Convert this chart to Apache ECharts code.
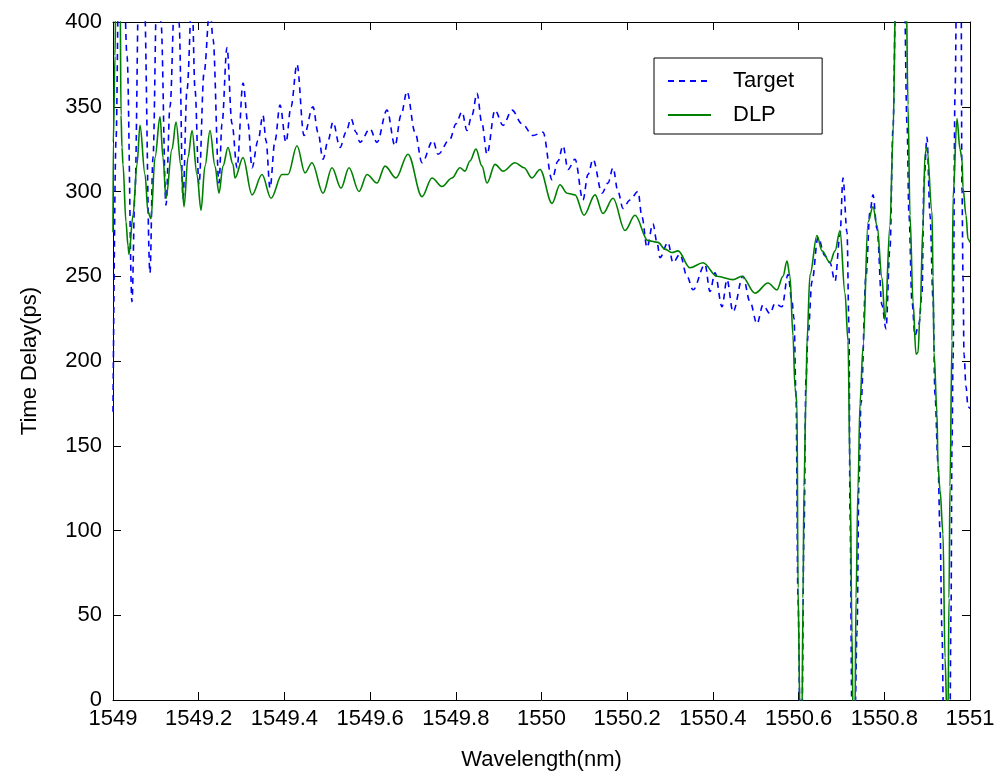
<!DOCTYPE html>
<html>
<head>
<meta charset="utf-8">
<script src="https://cdn.jsdelivr.net/npm/echarts@6/dist/echarts.min.js"></script>
<style>
  html, body { margin: 0; padding: 0; background: #fff; }
  #chart { width: 1005px; height: 780px; }
</style>
</head>
<body>
<div id="chart"></div>
<script>
// Wavelength (nm) and group delay (ps) of the target response
const targetWl = [
  1549.0000, 1549.0070, 1549.0140, 1549.0233, 1549.0327, 1549.0443, 1549.0513, 1549.0607,
  1549.0723, 1549.0863, 1549.0933, 1549.1027, 1549.1120, 1549.1237, 1549.1330, 1549.1447,
  1549.1540, 1549.1634, 1549.1727, 1549.1844, 1549.1914, 1549.2007, 1549.2124, 1549.2264,
  1549.2334, 1549.2474, 1549.2544, 1549.2660, 1549.2777, 1549.2894, 1549.3034, 1549.3151,
  1549.3244, 1549.3384, 1549.3501, 1549.3571, 1549.3664, 1549.3781, 1549.3897, 1549.4037,
  1549.4154, 1549.4294, 1549.4457, 1549.4667, 1549.4784, 1549.4901, 1549.5018, 1549.5134,
  1549.5298, 1549.5438, 1549.5554, 1549.5671, 1549.5764, 1549.5998, 1549.6161, 1549.6394,
  1549.6581, 1549.6721, 1549.6861, 1549.7048, 1549.7211, 1549.7468, 1549.7585, 1549.7865,
  1549.8005, 1549.8145, 1549.8261, 1549.8378, 1549.8495, 1549.8611, 1549.8728, 1549.8915,
  1549.9102, 1549.9312, 1549.9545, 1549.9802, 1550.0035, 1550.0245, 1550.0385, 1550.0502,
  1550.0618, 1550.0782, 1550.0968, 1550.1085, 1550.1202, 1550.1412, 1550.1552, 1550.1669,
  1550.1785, 1550.1902, 1550.2065, 1550.2252, 1550.2345, 1550.2462, 1550.2602, 1550.2695,
  1550.2765, 1550.2952, 1550.3069, 1550.3232, 1550.3396, 1550.3536, 1550.3816, 1550.3932,
  1550.4049, 1550.4212, 1550.4329, 1550.4469, 1550.4702, 1550.4866, 1550.5029, 1550.5169,
  1550.5333, 1550.5449, 1550.5613, 1550.5753, 1550.5846, 1550.5893, 1550.5939, 1550.5986,
  1550.6033, 1550.6079, 1550.6126, 1550.6173, 1550.6219, 1550.6313, 1550.6453, 1550.6616,
  1550.6733, 1550.6850, 1550.6966, 1550.7036, 1550.7130, 1550.7176, 1550.7200, 1550.7246,
  1550.7316, 1550.7363, 1550.7410, 1550.7456, 1550.7573, 1550.7666, 1550.7736, 1550.7830,
  1550.7946, 1550.8039, 1550.8133, 1550.8203, 1550.8273, 1550.8460, 1550.8530, 1550.8576,
  1550.8646, 1550.8716, 1550.8810, 1550.8880, 1550.8926, 1550.8996, 1550.9067, 1550.9137,
  1550.9183, 1550.9253, 1550.9300, 1550.9347, 1550.9382, 1550.9440, 1550.9533, 1550.9556,
  1550.9580, 1550.9603, 1550.9650, 1550.9696, 1550.9790, 1550.9813, 1550.9837, 1550.9860,
  1550.9907, 1550.9953, 1551.0000
];
const targetDelay = [
  170, 330, 440, 450, 380, 235, 300, 430,
  420, 252, 320, 425, 400, 292, 350, 420,
  400, 296, 360, 415, 360, 304, 370, 410,
  390, 305, 340, 385, 340, 314, 364, 340,
  314, 330, 345, 330, 302, 330, 351, 329,
  350, 375, 333, 350, 335, 319, 330, 341,
  326, 335, 343, 335, 329, 337, 329, 348,
  327, 345, 359, 335, 317, 330, 322, 331,
  340, 347, 336, 345, 358, 340, 322, 348,
  339, 348, 340, 333, 335, 307, 318, 327,
  313, 319, 295, 310, 319, 299, 305, 314,
  300, 290, 295, 300, 285, 267, 281, 270,
  261, 270, 258, 263, 250, 242, 257, 241,
  252, 232, 248, 229, 250, 235, 222, 233,
  228, 234, 232, 251, 235, 225, 180, 60,
  -10, -10, 100, 190, 215, 247, 273, 262,
  258, 247, 274, 308, 276, 220, 110, -10,
  -10, 40, 130, 175, 250, 288, 298, 278,
  233, 219, 267, 337, 430, 430, 340, 286,
  235, 215, 222, 240, 306, 332, 286, 237,
  180, 140, 100, 40, -10, -10, -10, 50,
  150, 200, 357, 440, 430, 300, 250, 204,
  185, 173, 172
];

// Wavelength (nm) and group delay (ps) of the DLP response
const dlpWl = [
  1549.0000, 1549.0007, 1549.0047, 1549.0070, 1549.0163, 1549.0187, 1549.0210, 1549.0233,
  1549.0303, 1549.0350, 1549.0373, 1549.0467, 1549.0560, 1549.0630, 1549.0747, 1549.0817,
  1549.0887, 1549.0980, 1549.1097, 1549.1167, 1549.1237, 1549.1377, 1549.1470, 1549.1587,
  1549.1657, 1549.1750, 1549.1844, 1549.1960, 1549.2054, 1549.2147, 1549.2264, 1549.2380,
  1549.2474, 1549.2567, 1549.2684, 1549.2800, 1549.2847, 1549.3034, 1549.3244, 1549.3477,
  1549.3687, 1549.3944, 1549.4084, 1549.4294, 1549.4481, 1549.4644, 1549.4901, 1549.5111,
  1549.5321, 1549.5508, 1549.5741, 1549.5928, 1549.6161, 1549.6348, 1549.6604, 1549.6884,
  1549.7211, 1549.7445, 1549.7678, 1549.7911, 1549.8098, 1549.8215, 1549.8331, 1549.8471,
  1549.8611, 1549.8728, 1549.8915, 1549.9102, 1549.9382, 1549.9592, 1549.9778, 1549.9965,
  1550.0245, 1550.0432, 1550.0595, 1550.0782, 1550.0992, 1550.1249, 1550.1435, 1550.1669,
  1550.1949, 1550.2182, 1550.2485, 1550.2719, 1550.2882, 1550.3046, 1550.3186, 1550.3466,
  1550.3769, 1550.4096, 1550.4469, 1550.4679, 1550.4982, 1550.5286, 1550.5496, 1550.5636,
  1550.5729, 1550.5799, 1550.5869, 1550.5916, 1550.5963, 1550.5986, 1550.6033, 1550.6079,
  1550.6103, 1550.6126, 1550.6173, 1550.6196, 1550.6266, 1550.6429, 1550.6546, 1550.6733,
  1550.6850, 1550.6966, 1550.7083, 1550.7153, 1550.7200, 1550.7246, 1550.7269, 1550.7316,
  1550.7340, 1550.7386, 1550.7433, 1550.7503, 1550.7620, 1550.7736, 1550.7830, 1550.7946,
  1550.8016, 1550.8133, 1550.8203, 1550.8273, 1550.8506, 1550.8553, 1550.8600, 1550.8670,
  1550.8740, 1550.8786, 1550.8833, 1550.8903, 1550.8950, 1550.8996, 1550.9113, 1550.9137,
  1550.9160, 1550.9230, 1550.9253, 1550.9300, 1550.9370, 1550.9417, 1550.9463, 1550.9486,
  1550.9510, 1550.9533, 1550.9580, 1550.9603, 1550.9696, 1550.9767, 1550.9813, 1550.9837,
  1550.9907, 1550.9953, 1551.0000
];
const dlpDelay = [
  276, 329, 380, 430, 430, 345, 326, 316,
  282, 268, 263, 286, 316, 339, 310, 288,
  284, 320, 344, 320, 296, 325, 341, 315,
  291, 320, 336, 310, 289, 315, 336, 315,
  299, 315, 326, 316, 308, 320, 298, 310,
  296, 310, 310, 327, 311, 317, 299, 314,
  302, 314, 300, 310, 305, 315, 308, 322,
  297, 308, 303, 308, 314, 312, 318, 325,
  315, 305, 316, 312, 317, 314, 308, 313,
  293, 304, 299, 298, 286, 298, 287, 296,
  277, 286, 271, 270, 266, 264, 265, 255,
  258, 250, 248, 250, 240, 246, 242, 250,
  259, 250, 215, 184, 175, 66, -10, -10,
  60, 126, 180, 212, 251, 274, 265, 258,
  265, 277, 240, 212, 135, 40, -10, -10,
  60, 125, 175, 208, 282, 291, 280, 249,
  224, 280, 333, 430, 430, 351, 286, 235,
  204, 205, 227, 280, 322, 326, 288, 250,
  205, 169, 138, 124, 98, 25, -10, -10,
  60, 126, 212, 296, 343, 325, 319, 302,
  286, 272, 270
];

// Axis ticks
const xMin = 1549, xMax = 1551, xStep = 0.2;
const yMin = 0, yMax = 400, yStep = 50;

const zip = (xs, ys) => xs.map((x, i) => [x, ys[i]]);

const FONT = '"Liberation Sans", Arial, sans-serif';
const FS = 22;
const black = '#000';

const fmt = v => String(+(+v).toFixed(1));

const baseAxis = {
  type: 'value',
  axisLine: { show: true, onZero: false, lineStyle: { color: black, width: 1 } },
  axisTick: { show: true, inside: true, length: 8, lineStyle: { color: black, width: 1 } },
  splitLine: { show: false },
  axisLabel: { color: black, fontSize: FS, fontFamily: FONT, formatter: fmt }
};

const chart = echarts.init(document.getElementById('chart'), null, { renderer: 'canvas' });

chart.setOption({
  animation: false,
  backgroundColor: '#fff',
  grid: { left: 113, right: 35, top: 22, bottom: 80, containLabel: false },
  legend: {
    orient: 'vertical',
    left: 654,
    top: 58,
    padding: [12, 28, 8, 13],
    borderColor: black,
    borderWidth: 1,
    backgroundColor: '#fff',
    itemWidth: 43,
    itemHeight: 20,
    itemGap: 12,
    itemStyle: { opacity: 0 },
    textStyle: { color: black, fontSize: FS, fontFamily: FONT, padding: [0, 0, 0, 17] },
    data: ['Target', 'DLP']
  },
  xAxis: [
    Object.assign({}, baseAxis, {
      min: xMin, max: xMax, interval: xStep, position: 'bottom',
      axisLabel: Object.assign({}, baseAxis.axisLabel, { margin: 8 }),
      name: 'Wavelength(nm)', nameLocation: 'middle', nameGap: 49,
      nameTextStyle: { color: black, fontSize: FS, fontFamily: FONT }
    }),
    Object.assign({}, baseAxis, {
      min: xMin, max: xMax, interval: xStep, position: 'top',
      axisLabel: { show: false }
    })
  ],
  yAxis: [
    Object.assign({}, baseAxis, {
      min: yMin, max: yMax, interval: yStep, position: 'left',
      axisLabel: Object.assign({}, baseAxis.axisLabel, { margin: 11 }),
      name: 'Time Delay(ps)', nameLocation: 'middle', nameGap: 72,
      nameTextStyle: { color: black, fontSize: FS, fontFamily: FONT }
    }),
    Object.assign({}, baseAxis, {
      min: yMin, max: yMax, interval: yStep, position: 'right',
      axisLabel: { show: false }
    })
  ],
  series: [
    {
      name: 'Target',
      type: 'line',
      xAxisIndex: 0,
      yAxisIndex: 0,
      data: zip(targetWl, targetDelay),
      symbol: 'none',
      showSymbol: false,
      clip: true,
      smooth: 0.35,
      smoothMonotone: 'x',
      lineStyle: { color: '#0000ff', width: 1.6, type: [6, 5] },
      itemStyle: { color: '#0000ff' },
      z: 2
    },
    {
      name: 'DLP',
      type: 'line',
      xAxisIndex: 0,
      yAxisIndex: 0,
      data: zip(dlpWl, dlpDelay),
      symbol: 'none',
      showSymbol: false,
      clip: true,
      smooth: 0.35,
      smoothMonotone: 'x',
      lineStyle: { color: '#008000', width: 1.6 },
      itemStyle: { color: '#008000' },
      z: 3
    }
  ]
});
</script>
</body>
</html>
